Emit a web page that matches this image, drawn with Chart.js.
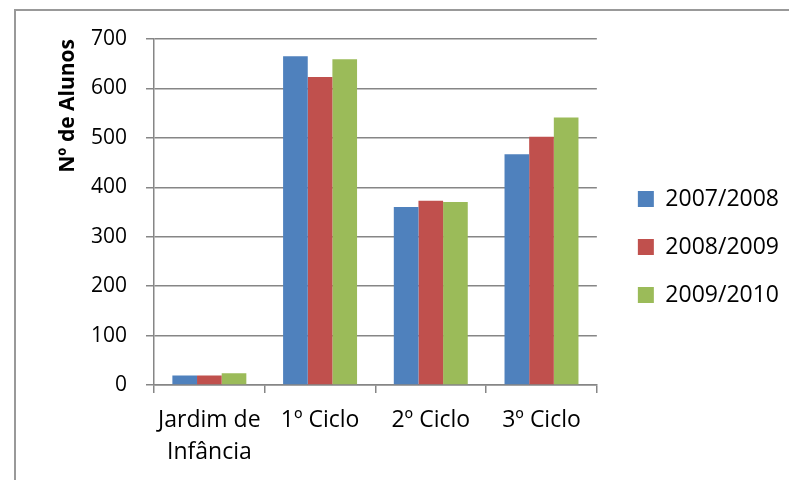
<!DOCTYPE html>
<html lang="pt">
<head>
    <meta charset="UTF-8" />
    <title>Nº de Alunos</title>
    <script src="https://cdn.jsdelivr.net/npm/chart.js"></script>
    <style>
        body {
            margin: 0;
            padding: 0;
            background: #fff;
            overflow: hidden;
        }

        .frame {
            position: absolute;
            left: 14px;
            top: 9px;
            width: 800px;
            height: 500px;
            border-top: 2px solid #999;
            border-left: 2px solid #999;
        }

        .chart-box {
            position: absolute;
            left: 0;
            top: 0;
            width: 789px;
            height: 480px;
        }
    </style>
</head>
<body>
    <div class="frame"></div>
    <div class="chart-box">
        <canvas id="alunosChart"></canvas>
    </div>

    <script>
        // data
        const categories = [['Jardim de', 'Infância'], '1º Ciclo', '2º Ciclo', '3º Ciclo'];
        const seriesNames = ['2007/2008', '2008/2009', '2009/2010'];
        const values2007 = [19, 665, 360, 467];
        const values2008 = [19, 623, 373, 502];
        const values2009 = [24, 659, 370, 541];
        const yTicks = [0, 100, 200, 300, 400, 500, 600, 700];

        const colors = ['#4F81BD', '#C0504D', '#9BBB59'];
        const gridColor = '#868686';
        const font = 'Open Sans';

        const ctx = document.getElementById('alunosChart').getContext('2d');

        new Chart(ctx, {
            type: 'bar',
            data: {
                labels: categories,
                datasets: [values2007, values2008, values2009].map((vals, i) => ({
                    label: seriesNames[i],
                    data: vals,
                    backgroundColor: colors[i],
                    borderWidth: 0,
                    categoryPercentage: 0.668,
                    barPercentage: 1
                }))
            },
            options: {
                responsive: true,
                maintainAspectRatio: false,
                animation: false,
                layout: {
                    padding: { left: 0, top: 39, right: 0, bottom: 0 }
                },
                plugins: {
                    tooltip: { enabled: false },
                    legend: {
                        position: 'right',
                        align: 'start',
                        maxWidth: 220,
                        // empty title only pushes the items down
                        title: {
                            display: true,
                            text: '',
                            padding: { top: 99.5, bottom: 0 },
                            font: { family: font, size: 20 }
                        },
                        labels: {
                            boxWidth: 16,
                            boxHeight: 16,
                            padding: 25,
                            color: '#000',
                            font: { family: font, size: 23 }
                        }
                    }
                },
                scales: {
                    x: {
                        grid: {
                            offset: true,
                            drawOnChartArea: false,
                            tickLength: 8,
                            color: gridColor,
                            lineWidth: 1.5
                        },
                        border: { color: gridColor, width: 1.5 },
                        ticks: {
                            color: '#000',
                            padding: 11,
                            maxRotation: 0,
                            autoSkip: false,
                            font: { family: font, size: 23, lineHeight: 1.39 }
                        },
                        afterFit: (scale) => { scale.height = 95; }
                    },
                    y: {
                        min: yTicks[0],
                        max: yTicks[yTicks.length - 1],
                        afterBuildTicks: (scale) => {
                            scale.ticks = yTicks.map(v => ({ value: v }));
                        },
                        grid: {
                            color: gridColor,
                            lineWidth: 1.5,
                            tickLength: 8
                        },
                        border: { color: gridColor, width: 1.5 },
                        ticks: {
                            color: '#000',
                            padding: 19,
                            font: { family: font, size: 21 }
                        },
                        title: {
                            display: true,
                            text: 'Nº de Alunos',
                            align: 'end',
                            color: '#000',
                            padding: { top: 55, bottom: 0 },
                            font: { family: font, size: 21, weight: 'bold' }
                        },
                        afterFit: (scale) => { scale.width = 154; }
                    },
                    // empty axis, only keeps a gap between plot and legend
                    gap: {
                        type: 'linear',
                        position: 'right',
                        grid: { display: false },
                        border: { display: false },
                        ticks: { display: false },
                        afterFit: (scale) => { scale.width = 16; }
                    }
                }
            }
        });
    </script>
</body>
</html>
